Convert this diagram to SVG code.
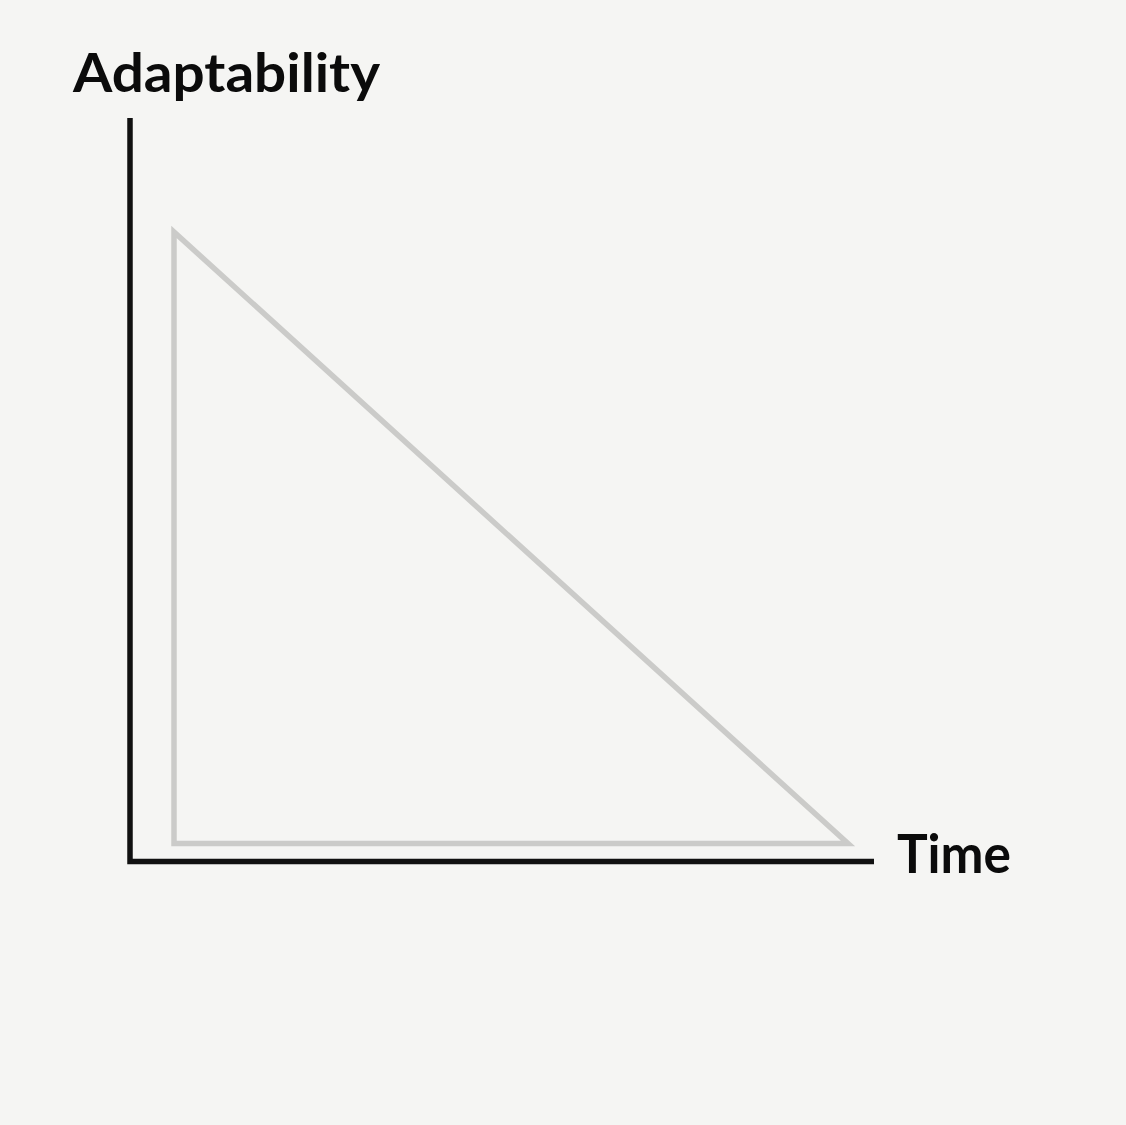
<svg xmlns="http://www.w3.org/2000/svg" width="1126" height="1125" viewBox="0 0 1126 1125">
<style>
.lbl{font-family:"Lato","Liberation Sans",sans-serif;font-weight:700;font-size:53px;fill:#0b0b0b}
.axis{fill:none;stroke:#111;stroke-width:5.5}
.tri{fill:none;stroke:#cbcbc9;stroke-width:5.5}
</style>
<rect width="1126" height="1125" fill="#f5f5f3"/>
<g id="connectors">
<polyline class="axis" points="130,118 130,861.5 874,861.5"/>
</g>
<g id="triangle">
<polygon class="tri" points="174,232 174,843.5 848,843.5"/>
</g>
<g id="label-y"><text class="lbl" x="73" y="92" textLength="307" lengthAdjust="spacingAndGlyphs">Adaptability</text></g>
<g id="label-x"><text class="lbl" x="897" y="873" textLength="114" lengthAdjust="spacingAndGlyphs">Time</text></g>
</svg>
